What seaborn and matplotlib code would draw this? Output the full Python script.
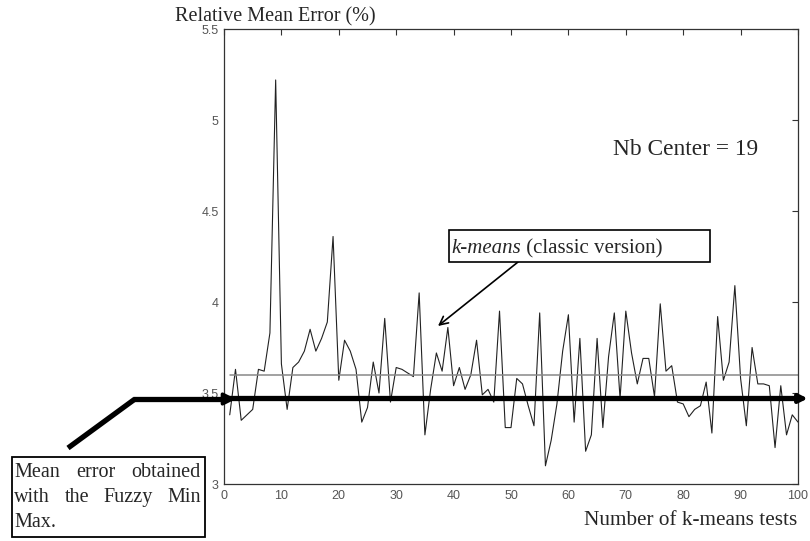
import numpy as np
import pandas as pd
import seaborn as sns
import matplotlib
matplotlib.use("Agg")
import matplotlib.pyplot as plt
from matplotlib.patches import Rectangle
from matplotlib.lines import Line2D

# ---------------- data ----------------
tests = list(range(1, 101))
errors = [3.38, 3.63, 3.35, 3.38, 3.41, 3.63, 3.62, 3.83, 5.22, 3.66,
          3.41, 3.64, 3.67, 3.73, 3.85, 3.73, 3.80, 3.89, 4.36, 3.57,
          3.79, 3.73, 3.63, 3.34, 3.42, 3.67, 3.50, 3.91, 3.45, 3.64,
          3.63, 3.61, 3.59, 4.05, 3.27, 3.52, 3.72, 3.62, 3.86, 3.54,
          3.64, 3.52, 3.60, 3.79, 3.49, 3.52, 3.45, 3.95, 3.31, 3.31,
          3.58, 3.55, 3.43, 3.32, 3.94, 3.10, 3.24, 3.44, 3.73, 3.93,
          3.34, 3.80, 3.18, 3.27, 3.80, 3.31, 3.70, 3.94, 3.47, 3.95,
          3.72, 3.55, 3.69, 3.69, 3.48, 3.99, 3.62, 3.65, 3.45, 3.44,
          3.37, 3.41, 3.43, 3.56, 3.28, 3.92, 3.57, 3.67, 4.09, 3.58,
          3.32, 3.75, 3.55, 3.55, 3.54, 3.20, 3.54, 3.27, 3.38, 3.34]
kmeans_mean = 3.60
fuzzy_mean = 3.47
xticks = list(range(0, 101, 10))
yticks = [3, 3.5, 4, 4.5, 5, 5.5]
ytick_labels = ["3", "3.5", "4", "4.5", "5", "5.5"]

df = pd.DataFrame({"test": tests, "error": errors})

# ---------------- style ----------------
sns.set_style("white")
plt.rcParams["font.family"] = ["Liberation Serif", "DejaVu Serif"]

W, H = 810, 541
fig = plt.figure(figsize=(W / 100, H / 100), dpi=100)


def fx(px):
    return px / W


def fy(py):
    return 1 - py / H


ax = fig.add_axes([fx(224), fy(484), fx(798) - fx(224), fy(29) - fy(484)])

sns.lineplot(data=df, x="test", y="error", ax=ax, color="#222222", lw=0.8)
ax.plot([tests[0], tests[-1]], [kmeans_mean, kmeans_mean], color="#888888", lw=1.1)

ax.set_xlim(0, 100)
ax.set_ylim(3, 5.5)
ax.set_xticks(xticks)
ax.set_xticklabels([str(t) for t in xticks])
ax.set_yticks(yticks)
ax.set_yticklabels(ytick_labels)
ax.set_xlabel("")
ax.set_ylabel("")
for lab in ax.get_xticklabels() + ax.get_yticklabels():
    lab.set_fontfamily(["Liberation Sans", "DejaVu Sans"])
    lab.set_fontsize(9)
    lab.set_color("#555555")
ax.tick_params(direction="in", length=4, width=0.8, color="#333333",
               top=True, right=True, pad=4)
for sp in ax.spines.values():
    sp.set_color("#333333")
    sp.set_linewidth(0.9)
    sp.set_visible(True)

# thick fuzzy min max line with arrow head beyond the axes
ax.plot([0, 100], [fuzzy_mean, fuzzy_mean], color="black", lw=3.8,
        solid_capstyle="butt", clip_on=False, zorder=5)
ax.annotate("", xy=(101.7, fuzzy_mean), xytext=(99.5, fuzzy_mean),
            xycoords="data", annotation_clip=False,
            arrowprops=dict(arrowstyle="-|>,head_length=0.5,head_width=0.25",
                            color="black", lw=3.0, shrinkA=0, shrinkB=0))

# ---------------- texts ----------------
fs = 14.5
fig.text(fx(175), fy(21), "Relative Mean Error (%)", fontsize=fs, va="baseline", ha="left")
fig.text(fx(797), fy(525), "Number of k-means tests", fontsize=15.3, va="baseline", ha="right")
fig.text(fx(613), fy(155), "Nb Center = 19", fontsize=16.8, va="baseline", ha="left")

# k-means box + arrow
fig.add_artist(Rectangle((fx(449), fy(262)), fx(710) - fx(449), fy(230) - fy(262),
                         transform=fig.transFigure, fill=True, facecolor="white",
                         edgecolor="black", lw=1.2, zorder=6))
t1 = fig.text(fx(451), fy(253), "k-means", fontsize=15, style="italic",
              va="baseline", ha="left", zorder=7)
t2 = fig.text(fx(451), fy(253), " (classic version)", fontsize=15,
              va="baseline", ha="left", zorder=7)
ax.annotate("", xy=(fx(438), fy(326)), xytext=(fx(518), fy(262)),
            xycoords="figure fraction", textcoords="figure fraction",
            arrowprops=dict(arrowstyle="->,head_length=0.6,head_width=0.3",
                            color="black", lw=1.2, shrinkA=0, shrinkB=0))

# left box
fig.add_artist(Rectangle((fx(12), fy(537)), fx(205) - fx(12), fy(457) - fy(537),
                         transform=fig.transFigure, fill=False, edgecolor="black",
                         lw=1.3, zorder=6))
fig.add_artist(Line2D([fx(68), fx(135)], [fy(448), fy(399)], transform=fig.transFigure,
                      color="black", lw=3.8, solid_capstyle="butt"))
fig.add_artist(Line2D([fx(133), fx(222)], [fy(399), fy(399)], transform=fig.transFigure,
                      color="black", lw=3.8, solid_capstyle="butt"))
ax.annotate("", xy=(fx(236), fy(399)), xytext=(fx(215), fy(399)),
            xycoords="figure fraction", textcoords="figure fraction",
            annotation_clip=False,
            arrowprops=dict(arrowstyle="-|>,head_length=0.7,head_width=0.35",
                            color="black", lw=2.5, shrinkA=0, shrinkB=0))

box_lines = [("Mean error obtained", True, 477),
             ("with the Fuzzy Min", True, 502),
             ("Max.", False, 527)]
fig.canvas.draw()
renderer = fig.canvas.get_renderer()

# place the upright part right after the italic word
w1 = t1.get_window_extent(renderer=renderer).width
t2.set_x(fx(451 + w1))

x0, x1 = 14, 201
for line, justify, base in box_lines:
    words = line.split(" ")
    if not justify:
        fig.text(fx(x0), fy(base), line, fontsize=fs, va="baseline", ha="left")
        continue
    objs = [fig.text(0, fy(base), w, fontsize=fs, va="baseline", ha="left") for w in words]
    widths = [o.get_window_extent(renderer=renderer).width for o in objs]
    gap = (x1 - x0 - sum(widths)) / (len(words) - 1)
    cur = x0
    for o, wdt in zip(objs, widths):
        o.set_x(fx(cur))
        cur += wdt + gap

fig.savefig("out.png", dpi=100)
